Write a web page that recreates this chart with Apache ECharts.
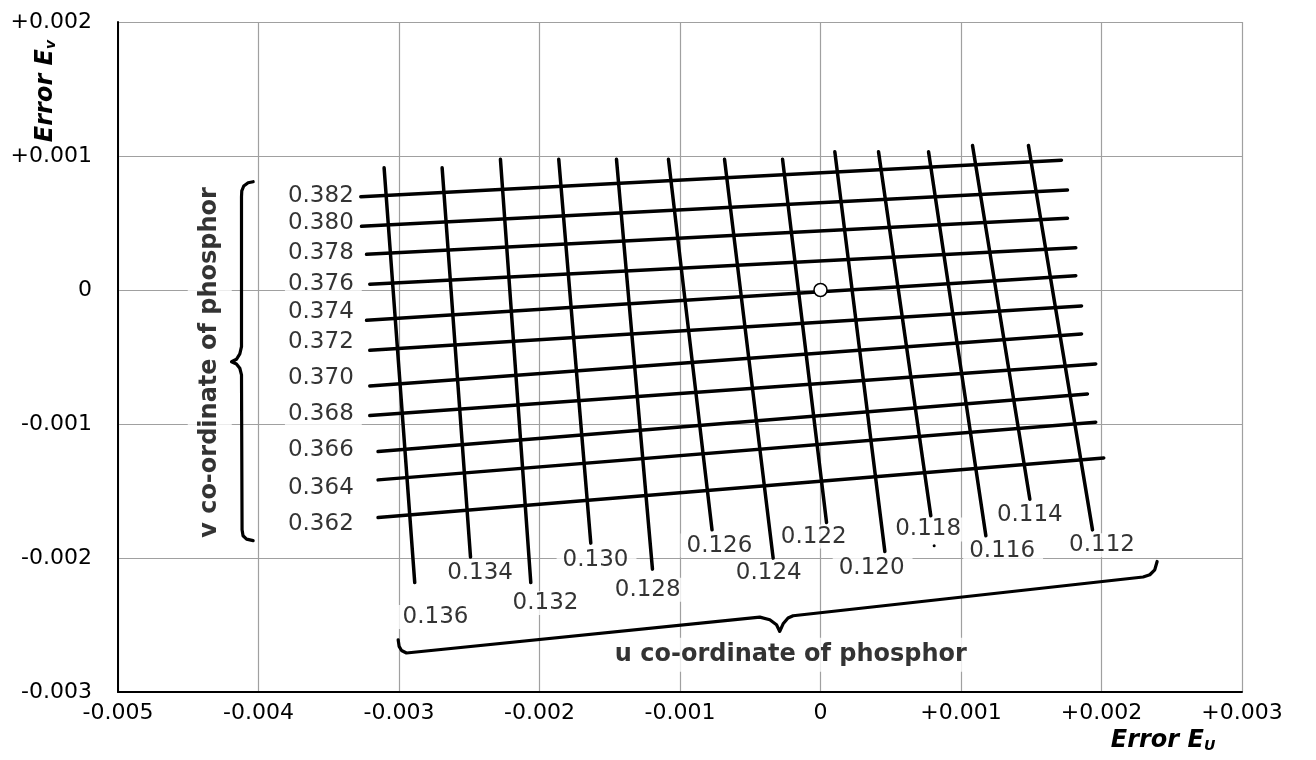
<!DOCTYPE html>
<html>
<head>
<meta charset="utf-8">
<script src="https://cdn.jsdelivr.net/npm/echarts@6/dist/echarts.min.js"></script>
<style>
html, body { margin: 0; padding: 0; background: #ffffff; }
#chart { width: 1316px; height: 760px; }
</style>
</head>
<body>
<div id="chart"></div>
<script>
// ---------------- data ----------------
const xTickLabels = ['-0.005', '-0.004', '-0.003', '-0.002', '-0.001', '0', '+0.001', '+0.002', '+0.003'];
const yTickLabels = ['-0.003', '-0.002', '-0.001', '0', '+0.001', '+0.002'];

// lines of constant u (nearly vertical): top and bottom end points (Error Eu, Error Ev)
const uValues  = ['0.136', '0.134', '0.132', '0.130', '0.128', '0.126', '0.124', '0.122', '0.120', '0.118', '0.116', '0.114', '0.112'];
const uTopX    = [-0.003106, -0.002693, -0.002278, -0.001863, -0.001452, -0.001082, -0.000683, -0.000270, 0.000102, 0.000413, 0.000769, 0.001082, 0.001480];
const uTopY    = [0.000912, 0.000912, 0.000975, 0.000975, 0.000975, 0.000975, 0.000975, 0.000975, 0.001031, 0.001031, 0.001031, 0.001079, 0.001079];
const uBottomX = [-0.002888, -0.002491, -0.002062, -0.001635, -0.001196, -0.000772, -0.000337, 0.000043, 0.000458, 0.000785, 0.001177, 0.001490, 0.001936];
const uBottomY = [-0.002183, -0.001993, -0.002183, -0.001889, -0.002083, -0.001790, -0.002001, -0.001735, -0.001952, -0.001685, -0.001834, -0.001561, -0.001790];
const uLabelX  = [-0.002733, -0.002416, -0.001950, -0.001594, -0.001223, -0.000712, -0.000361, -0.000041, 0.000371, 0.000773, 0.001300, 0.001497, 0.002011];
const uLabelY  = [-0.002441, -0.002113, -0.002336, -0.002013, -0.002237, -0.001907, -0.002113, -0.001840, -0.002072, -0.001787, -0.001949, -0.001680, -0.001904];

// lines of constant v (nearly horizontal): left and right end points
const vValues = ['0.382', '0.380', '0.378', '0.376', '0.374', '0.372', '0.370', '0.368', '0.366', '0.364', '0.362'];
const vLeftX  = [-0.003272, -0.003267, -0.003231, -0.003208, -0.003231, -0.003208, -0.003208, -0.003208, -0.003149, -0.003149, -0.003149];
const vLeftY  = [0.000696, 0.000475, 0.000266, 0.000043, -0.000226, -0.000450, -0.000716, -0.000937, -0.001206, -0.001417, -0.001698];
const vRightX = [0.001715, 0.001758, 0.001758, 0.001817, 0.001817, 0.001858, 0.001858, 0.001959, 0.001900, 0.001959, 0.002016];
const vRightY = [0.000969, 0.000746, 0.000535, 0.000315, 0.000107, -0.000119, -0.000328, -0.000552, -0.000776, -0.000987, -0.001253];
const vLabelY = [0.000701, 0.000497, 0.000274, 0.000043, -0.000166, -0.000390, -0.000658, -0.000927, -0.001193, -0.001477, -0.001747];
const vLabelX = -0.003265;

// braces
const braceVX = [-0.004038, -0.004074, -0.004105, -0.004119, -0.004121, -0.004121, -0.004133, -0.004157, -0.004192, -0.004157, -0.004133, -0.004121, -0.004117, -0.004110, -0.004085, -0.004038];
const braceVY = [0.000808, 0.000800, 0.000776, 0.000740, 0.000696, -0.000423, -0.000477, -0.000517, -0.000535, -0.000552, -0.000584, -0.000634, -0.001790, -0.001834, -0.001859, -0.001870];
const braceUX = [-0.003006, -0.002999, -0.002982, -0.002947, -0.000432, -0.000361, -0.000313, -0.000290, -0.000266, -0.000231, -0.000195, 0.002296, 0.002344, 0.002379, 0.002396];
const braceUY = [-0.002610, -0.002660, -0.002690, -0.002709, -0.002441, -0.002461, -0.002498, -0.002548, -0.002491, -0.002448, -0.002431, -0.002142, -0.002125, -0.002088, -0.002026];

const originPoint = [0, 0];
const strayDot = [0.000809, -0.001909];

const uTitle = 'u co-ordinate of phosphor';
const uTitlePos = [-0.000211, -0.002722];
const vTitle = 'v co-ordinate of phosphor';
const vTitlePos = [-0.004347, -0.000541];

// ---------------- chart ----------------
const FONT = "'DejaVu Sans', sans-serif";
const chart = echarts.init(document.getElementById('chart'), null, { renderer: 'canvas', width: 1316, height: 760 });

const blackLine = { color: '#000', width: 3.5, cap: 'round', join: 'round' };
const braceLine = { color: '#000', width: 3.2, cap: 'round', join: 'round' };
const series = [];

uValues.forEach((u, i) => {
  series.push({
    type: 'line', name: 'u = ' + u, silent: true, symbol: 'none', z: 3,
    data: [[uTopX[i], uTopY[i]], [uBottomX[i], uBottomY[i]]],
    lineStyle: blackLine
  });
});
vValues.forEach((v, i) => {
  series.push({
    type: 'line', name: 'v = ' + v, silent: true, symbol: 'none', z: 3,
    data: [[vLeftX[i], vLeftY[i]], [vRightX[i], vRightY[i]]],
    lineStyle: blackLine
  });
});
series.push({
  type: 'line', name: 'v brace', silent: true, symbol: 'none', z: 3,
  data: braceVX.map((x, i) => [x, braceVY[i]]), lineStyle: braceLine
});
series.push({
  type: 'line', name: 'u brace', silent: true, symbol: 'none', z: 3,
  data: braceUX.map((x, i) => [x, braceUY[i]]), lineStyle: braceLine
});

const labelBase = {
  show: true, position: 'inside', formatter: '{b}', verticalAlign: 'middle',
  fontFamily: FONT, color: '#000', textBorderWidth: 0, textShadowBlur: 0,
  backgroundColor: '#fff'
};

// u labels
series.push({
  type: 'scatter', name: 'u labels', silent: true, z: 1, symbolSize: 1,
  itemStyle: { color: 'rgba(0,0,0,0)' },
  data: uValues.map((u, i) => ({ name: u, value: [uLabelX[i], uLabelY[i]] })),
  label: Object.assign({}, labelBase, { align: 'center', fontSize: 23, lineHeight: 24, padding: [0, 8, 0, 6] })
});
// v labels
series.push({
  type: 'scatter', name: 'v labels', silent: true, z: 1, symbolSize: 1,
  itemStyle: { color: 'rgba(0,0,0,0)' },
  data: vValues.map((v, i) => ({ name: v, value: [vLabelX, vLabelY[i]] })),
  label: Object.assign({}, labelBase, { align: 'right', fontSize: 23, lineHeight: 24, padding: [0, 8, 0, 3] })
});
// brace titles
series.push({
  type: 'scatter', name: 'brace titles', silent: true, z: 1, symbolSize: 1,
  itemStyle: { color: 'rgba(0,0,0,0)' },
  data: [
    { name: uTitle, value: uTitlePos, label: { rotate: 0, padding: [3, 6, 3, 6] } },
    { name: vTitle, value: vTitlePos, label: { rotate: 90, padding: [8, 6, 8, 6] } }
  ],
  label: Object.assign({}, labelBase, { align: 'center', fontSize: 24, fontWeight: 'bold', lineHeight: 28 })
});
// origin marker and stray dot
series.push({
  type: 'scatter', name: 'origin', silent: true, z: 5, symbol: 'circle', symbolSize: 13,
  itemStyle: { color: '#fff', borderColor: '#000', borderWidth: 1.5, opacity: 1 },
  data: [originPoint]
});
series.push({
  type: 'scatter', name: 'dot', silent: true, z: 5, symbol: 'circle', symbolSize: 3,
  itemStyle: { color: '#000', opacity: 1 },
  data: [strayDot]
});

function tickLabel(list, min, v) {
  const idx = Math.round((v - min) / 0.001);
  return list[idx] !== undefined ? list[idx] : '';
}

const option = {
  animation: false,
  backgroundColor: '#fff',
  grid: { left: 118, right: 74, top: 22, bottom: 68, containLabel: false },
  xAxis: {
    type: 'value', min: -0.005, max: 0.003, interval: 0.001,
    axisLine: { show: true, onZero: false, lineStyle: { color: '#000', width: 2 } },
    axisTick: { show: false },
    splitLine: { show: true, lineStyle: { color: '#a0a0a0', width: 1.2 } },
    axisLabel: {
      formatter: v => tickLabel(xTickLabels, -0.005, v),
      fontFamily: FONT, fontSize: 22, color: '#000', margin: 10
    }
  },
  yAxis: {
    type: 'value', min: -0.003, max: 0.002, interval: 0.001,
    axisLine: { show: true, onZero: false, lineStyle: { color: '#000', width: 2 } },
    axisTick: { show: false },
    splitLine: { show: true, lineStyle: { color: '#a0a0a0', width: 1.2 } },
    axisLabel: {
      formatter: v => tickLabel(yTickLabels, -0.003, v),
      fontFamily: FONT, fontSize: 22, color: '#000', margin: 26
    }
  },
  graphic: [
    {
      type: 'text', x: 46, y: 91, rotation: Math.PI / 2, z: 10,
      style: {
        text: '{a|Error E}{b|v}', align: 'center', verticalAlign: 'middle',
        rich: {
          a: { fontFamily: FONT, fontSize: 24, fontWeight: 'bold', fontStyle: 'italic', fill: '#000' },
          b: { fontFamily: FONT, fontSize: 14, fontWeight: 'bold', fontStyle: 'italic', fill: '#000', verticalAlign: 'bottom' }
        }
      }
    },
    {
      type: 'text', x: 1163, y: 741, z: 10,
      style: {
        text: '{a|Error E}{b|U}', align: 'center', verticalAlign: 'middle',
        rich: {
          a: { fontFamily: FONT, fontSize: 24, fontWeight: 'bold', fontStyle: 'italic', fill: '#000' },
          b: { fontFamily: FONT, fontSize: 14, fontWeight: 'bold', fontStyle: 'italic', fill: '#000', verticalAlign: 'bottom' }
        }
      }
    }
  ],
  series: series
};
chart.setOption(option);
</script>
</body>
</html>
